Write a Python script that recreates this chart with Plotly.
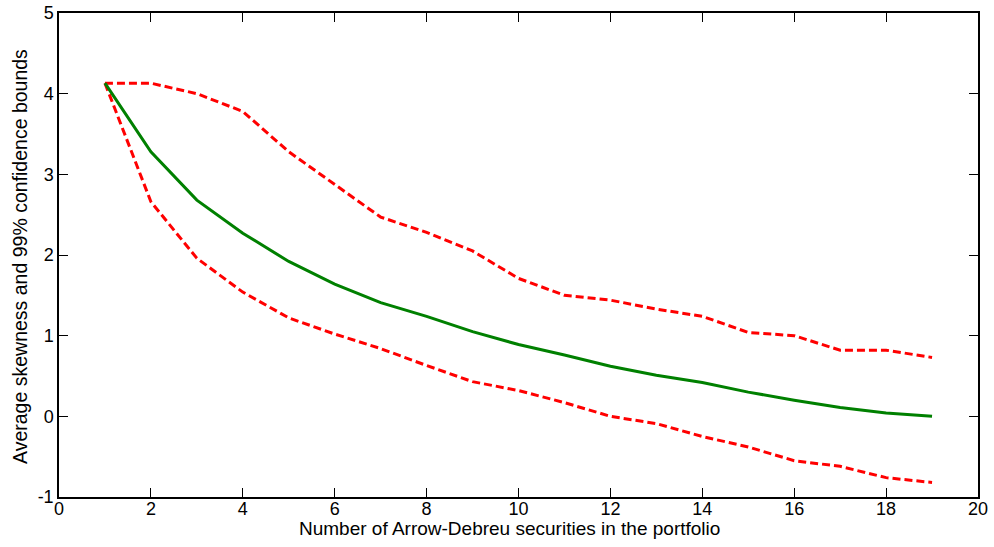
import plotly.graph_objects as go

n_securities = list(range(1, 20))
mean_skew = [4.13, 3.28, 2.68, 2.27, 1.92, 1.64, 1.41, 1.24, 1.05, 0.89, 0.76, 0.62, 0.51, 0.42, 0.30, 0.20, 0.11, 0.04, 0.0]
upper_bound = [4.13, 4.13, 4.0, 3.78, 3.28, 2.87, 2.47, 2.28, 2.05, 1.71, 1.50, 1.44, 1.33, 1.24, 1.04, 1.0, 0.82, 0.82, 0.73]
lower_bound = [4.13, 2.66, 1.96, 1.54, 1.22, 1.02, 0.84, 0.63, 0.43, 0.32, 0.17, 0.0, -0.09, -0.25, -0.38, -0.55, -0.62, -0.76, -0.82]

x_ticks = [0, 2, 4, 6, 8, 10, 12, 14, 16, 18, 20]
y_ticks = [-1, 0, 1, 2, 3, 4, 5]

x_title = "Number of Arrow-Debreu securities in the portfolio"
y_title = "Average skewness and 99% confidence bounds"

fig = go.Figure()
fig.add_trace(go.Scatter(x=n_securities, y=upper_bound, mode="lines",
                         line=dict(color="#ff0000", width=3, dash="8px,4px"), showlegend=False))
fig.add_trace(go.Scatter(x=n_securities, y=lower_bound, mode="lines",
                         line=dict(color="#ff0000", width=3, dash="8px,4px"), showlegend=False))
fig.add_trace(go.Scatter(x=n_securities, y=mean_skew, mode="lines",
                         line=dict(color="#008000", width=3), showlegend=False))

FONT = "Liberation Sans, Arial"
axis_common = dict(showgrid=False, zeroline=False, showline=True, linecolor="black", linewidth=1.5,
                   mirror="ticks", ticks="inside", ticklen=9, tickcolor="black", automargin=False,
                   tickfont=dict(family=FONT, size=18, color="black"))

fig.update_layout(
    width=994, height=547,
    margin=dict(l=59, r=16, t=13, b=50),
    plot_bgcolor="white", paper_bgcolor="white",
    xaxis=dict(range=[0, 20], tickvals=x_ticks, ticktext=[str(v) for v in x_ticks],
               ticklabelstandoff=-5, **axis_common),
    yaxis=dict(range=[-1, 5], tickvals=y_ticks, ticktext=[str(v) for v in y_ticks], **axis_common),
    annotations=[
        dict(text=x_title, xref="paper", yref="paper", x=0.49, y=-0.066,
             xanchor="center", yanchor="middle", showarrow=False,
             font=dict(family=FONT, size=19, color="black")),
        dict(text=y_title, xref="paper", yref="paper", x=-0.0424, y=0.496,
             xanchor="center", yanchor="middle", showarrow=False, textangle=-90,
             font=dict(family=FONT, size=19.5, color="black")),
    ],
)

fig.write_html("out.html")
